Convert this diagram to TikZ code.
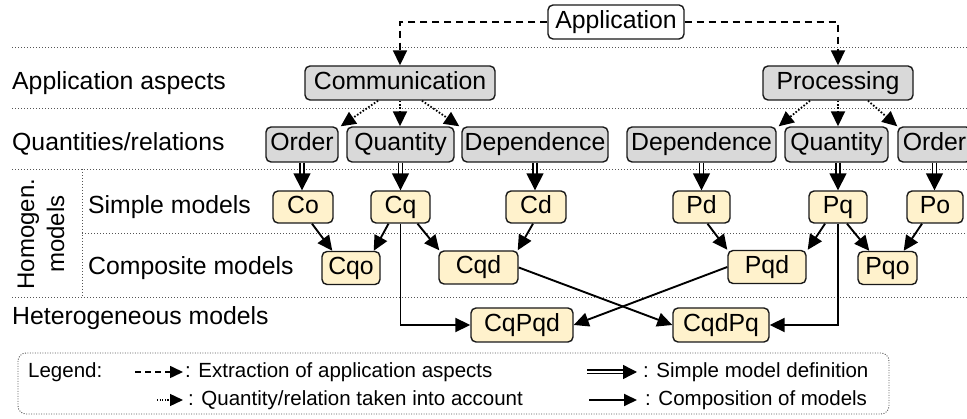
\documentclass[tikz,border=0pt]{standalone}
\usepackage{fontspec}
\setmainfont{Liberation Sans}
\usetikzlibrary{arrows.meta,calc}
\definecolor{gfill}{HTML}{D9D9D9}
\definecolor{yfill}{HTML}{FFF2CC}
\definecolor{sepc}{HTML}{555555}
\begin{document}
\begin{tikzpicture}[x=1pt,y=-1pt,
  every node/.style={font=\fontsize{24.8}{29}\selectfont},
  box/.style={draw=black!90, line width=1.4pt, rounded corners=5pt, text height=18pt, text depth=5pt, inner xsep=2pt, inner ysep=0pt, minimum height=34pt},
  gbox/.style={box, fill=gfill},
  ybox/.style={box, fill=yfill, minimum height=33pt},
  wbox/.style={box, fill=white},
  lbl/.style={anchor=west, inner sep=0pt, text height=18pt, text depth=5pt},
  leg/.style={anchor=west, inner sep=0pt, text height=15pt, text depth=4pt, font=\fontsize{20.5}{24}\selectfont},
  sepline/.style={draw=sepc, line width=0.9pt, dash pattern=on 1pt off 2pt},
  tip/.style={-{Triangle[length=15pt,width=14pt]}},
  dasharr/.style={line width=1.8pt, dash pattern=on 7pt off 5pt, tip},
  dotarr/.style={line width=1.8pt, dash pattern=on 1.6pt off 1.8pt, tip},
  dblarr/.style={double=white, double distance=2.6pt, line width=1.6pt, -{Triangle[length=17pt,width=17pt]}},
  comparr/.style={line width=1.9pt, tip},
]
\useasboundingbox (0,0) rectangle (967,419);

% separators
\draw[sepline] (12,47) -- (967,47);
\draw[sepline] (12,108) -- (967,108);
\draw[sepline] (12,169) -- (967,169);
\draw[sepline] (82,233) -- (967,233);
\draw[sepline] (12,297) -- (967,297);
\draw[sepline] (82,169) -- (82,297);

% row labels
\node[lbl] (laa) at (12,83) {Application aspects};
\node[lbl] (lqr) at (12,144.5) {Quantities/relations};
\node[lbl] (lsm) at (88,207) {Simple models};
\node[lbl] (lcm) at (88,268) {Composite models};
\node[lbl] (lhm) at (12,318) {Heterogeneous models};
\node[rotate=90, align=center, inner sep=0pt, font=\fontsize{24}{30}\selectfont] (lhg) at (41,234) {Homogen.\\models};

% nodes
\node[wbox, minimum width=136pt] (app) at (616,22) {Application};
\node[gbox, minimum width=190pt] (comm) at (400,83) {Communication};
\node[gbox, minimum width=150pt] (proc) at (838,83) {Processing};

\node[gbox, minimum width=72pt, minimum height=35pt] (oc) at (302,144.5) {Order};
\node[gbox, minimum width=107pt, minimum height=35pt] (qc) at (400.5,144.5) {Quantity};
\node[gbox, minimum width=146pt, minimum height=35pt] (dc) at (535,144.5) {Dependence};
\node[gbox, minimum width=149pt, minimum height=35pt] (dp) at (701.5,144.5) {Dependence};
\node[gbox, minimum width=103pt, minimum height=35pt] (qp) at (836.5,144.5) {Quantity};
\node[gbox, minimum width=73pt, minimum height=35pt] (op) at (934.5,144.5) {Order};

\node[ybox, minimum width=60pt, minimum height=32pt] (co) at (303,207) {Co};
\node[ybox, minimum width=59pt, minimum height=32pt] (cq) at (400.5,207) {Cq};
\node[ybox, minimum width=60pt, minimum height=32pt] (cd) at (536,207) {Cd};
\node[ybox, minimum width=57pt, minimum height=32pt] (pd) at (701.5,207) {Pd};
\node[ybox, minimum width=58pt, minimum height=32pt] (pq) at (838,207) {Pq};
\node[ybox, minimum width=56pt, minimum height=32pt] (po) at (935,207) {Po};

\node[ybox, minimum width=58pt] (cqo) at (351,268) {Cqo};
\node[ybox, minimum width=79pt] (cqd) at (478.5,267.5) {Cqd};
\node[ybox, minimum width=78pt] (pqd) at (767,267) {Pqd};
\node[ybox, minimum width=59pt] (pqo) at (887.5,268) {Pqo};

\node[ybox, minimum width=102pt, minimum height=34pt] (cqpqd) at (522,325) {CqPqd};
\node[ybox, minimum width=96pt, minimum height=34pt] (cqdpq) at (721,325) {CqdPq};

% extraction (dashed)
\draw[dasharr] (app.west) -| (comm.north);
\draw[dasharr] (app.east) -| (proc.north);

% quantities (dotted)
\draw[dotarr] ($(comm.south)+(-22,0)$) -- ($(oc.north east)+(2,0)$);
\draw[dotarr] (comm.south) -- (comm.south |- qc.north);
\draw[dotarr] ($(comm.south)+(22,0)$) -- ($(dc.north west)+(-2,0)$);
\draw[dotarr] ($(proc.south)+(-28,0)$) -- ($(dp.north east)+(2,0)$);
\draw[dotarr] (proc.south) -- (proc.south |- qp.north);
\draw[dotarr] ($(proc.south)+(30,0)$) -- ($(op.north west)+(0,0)$);

% simple model definition (double)
\draw[dblarr] (oc.south) -- (oc.south |- co.north);
\draw[dblarr] (qc.south) -- (qc.south |- cq.north);
\draw[dblarr] (dc.south) -- (dc.south |- cd.north);
\draw[dblarr] (dp.south) -- (dp.south |- pd.north);
\draw[dblarr] (pq.north |- qp.south) -- (pq.north);
\draw[dblarr] (op.south) -- (op.south |- po.north);

% composition
\draw[comparr] ($(co.south)+(9,0)$) -- ($(cqo.north west)+(11,0)$);
\draw[comparr] ($(cq.south)+(-12,0)$) -- ($(cqo.north east)+(-7,0)$);
\draw[comparr] ($(cq.south)+(17,0)$) -- ($(cqd.north west)+(1,0)$);
\draw[comparr] ($(cd.south)+(-3,0)$) -- ($(cqd.north east)+(-1,0)$);
\draw[comparr] ($(pd.south)+(6,0)$) -- ($(pqd.north west)+(0,0)$);
\draw[comparr] ($(pq.south)+(-13,0)$) -- ($(pqd.north east)+(1,0)$);
\draw[comparr] ($(pq.south)+(9,0)$) -- ($(pqo.north west)+(12,0)$);
\draw[comparr] ($(po.south)+(-13,0)$) -- ($(pqo.north east)+(-14,0)$);
\draw[comparr] (cq.south) |- (cqpqd.west);
\draw[comparr] (pq.south) |- (cqdpq.east);
\draw[comparr] (cqd.east) -- (cqdpq.west);
\draw[comparr] (pqd.west) -- (cqpqd.east);

% legend
\draw[draw=sepc, line width=0.9pt, dash pattern=on 1pt off 1.5pt, rounded corners=8pt] (18,353) rectangle (889,414);
\node[leg] (legt) at (28,372) {Legend:};
\coordinate (l1a) at (135,372); \coordinate (l1b) at (183,372);
\coordinate (l2a) at (157,400); \coordinate (l2b) at (183,400);
\coordinate (l3a) at (587,372); \coordinate (l3b) at (637,372);
\coordinate (l4a) at (589,400); \coordinate (l4b) at (637,400);
\draw[line width=1.6pt, dash pattern=on 6pt off 4pt, -{Triangle[length=13pt,width=12pt]}] (l1a) -- (l1b);
\draw[line width=1.4pt, dash pattern=on 1.2pt off 1.4pt, -{Triangle[length=13pt,width=12pt]}] (l2a) -- (l2b);
\draw[double=white, double distance=2.2pt, line width=1.4pt, -{Triangle[length=14pt,width=14pt]}] (l3a) -- (l3b);
\draw[line width=1.8pt, -{Triangle[length=13pt,width=12pt]}] (l4a) -- (l4b);
\node[leg] (lt1) at (185,372) {: Extraction of application aspects};
\node[leg] (lt2) at (188,400) {: Quantity/relation taken into account};
\node[leg] (lt3) at (643,372) {: Simple model definition};
\node[leg] (lt4) at (645,400) {: Composition of models};
\end{tikzpicture}
\end{document}
